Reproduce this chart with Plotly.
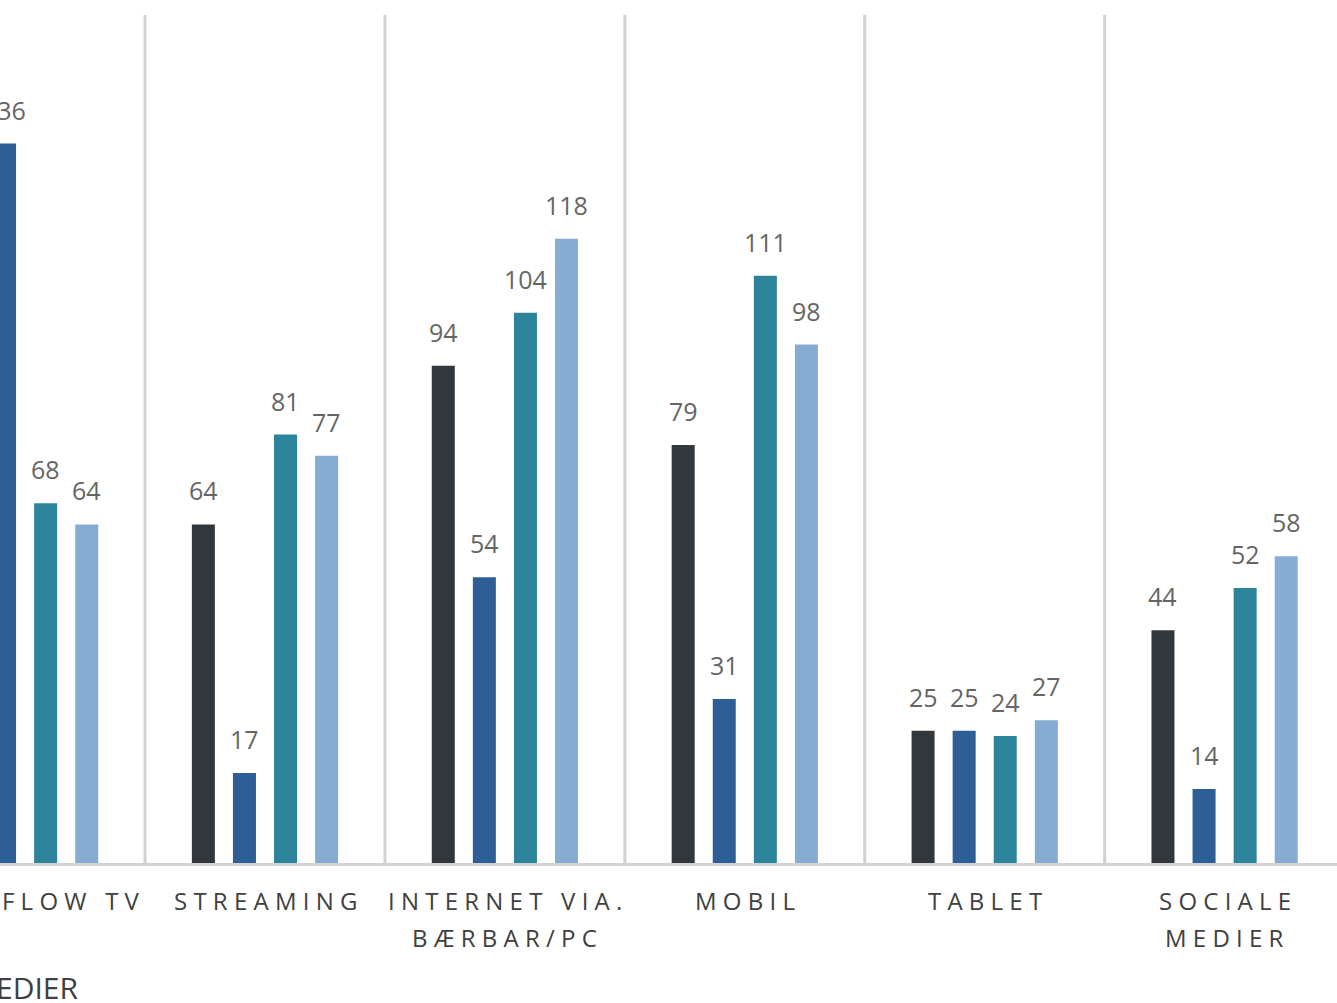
import plotly.graph_objects as go

# Categories and series values
categories = ["FLOW TV", "STREAMING", "INTERNET VIA.\nBÆRBAR/PC", "MOBIL", "TABLET", "SOCIALE\nMEDIER"]
series_names = ["Serie 1", "Serie 2", "Serie 3", "Serie 4"]
values_1 = [None, 64, 94, 79, 25, 44]
values_2 = [136, 17, 54, 31, 25, 14]
values_3 = [68, 81, 104, 111, 24, 52]
values_4 = [64, 77, 118, 98, 27, 58]
footer_text = "MEDIER"

series_values = [values_1, values_2, values_3, values_4]
colors = ["#32373c", "#2d5e95", "#2b8499", "#86acd4"]

BARGAP = 0.315
GROUPGAP = 0.44
X_RANGE = [-0.1046, 5.4685]
NBSP = "\u00a0"


def spaced(word_line):
    # wide letter-spacing: one nbsp between letters, three between words
    words = word_line.split(" ")
    return (NBSP * 3).join(NBSP.join(list(w)) for w in words)


fig = go.Figure()
for name, vals, col in zip(series_names, series_values, colors):
    fig.add_trace(go.Bar(
        x=list(range(len(categories))),
        y=vals,
        name=name,
        marker=dict(color=col, line=dict(width=0)),
        hoverinfo="y",
    ))

annotations = []
slot = (1 - BARGAP) / len(series_values)
# value labels above each bar
for k, vals in enumerate(series_values):
    for i, v in enumerate(vals):
        if v is None:
            continue
        annotations.append(dict(
            x=i + (k - (len(series_values) - 1) / 2) * slot,
            y=v, xref="x", yref="y",
            text=str(v), showarrow=False,
            xanchor="center", yanchor="bottom", yshift=15,
            font=dict(family="Open Sans", size=25, color="#656565"),
        ))

# category labels under the axis, one annotation per line;
# the first one is kept inside the left edge
for i, cat in enumerate(categories):
    for j, line in enumerate(cat.split("\n")):
        pos = dict(x=i, xref="x", xanchor="center")
        if i == 0:
            pos = dict(x=0, xref="paper", xanchor="left", xshift=0)
        annotations.append(dict(
            **pos, y=0, yref="paper",
            text=spaced(line), showarrow=False,
            yanchor="top", yshift=-19 - 37 * j,
            font=dict(family="Open Sans", size=24, color="#404040"),
        ))

# footer word at the lower left
annotations.append(dict(
    x=80 / 1337, y=0, xref="paper", yref="paper",
    text=footer_text, showarrow=False,
    xanchor="right", yanchor="bottom", yshift=-147,
    font=dict(family="Open Sans", size=30, color="#404040"),
))

# vertical separators between categories
shapes = []
for i in range(len(categories) - 1):
    shapes.append(dict(
        type="line", xref="x", yref="paper",
        x0=i + 0.5, x1=i + 0.5, y0=0, y1=1,
        line=dict(color="#d2d2d2", width=3),
        layer="below",
    ))

fig.update_layout(
    width=1337, height=1003,
    margin=dict(l=0, r=0, t=15, b=140),
    paper_bgcolor="white", plot_bgcolor="white",
    barmode="group", bargap=BARGAP, bargroupgap=GROUPGAP,
    showlegend=False,
    annotations=annotations,
    shapes=shapes,
    xaxis=dict(
        range=X_RANGE,
        showticklabels=False, ticks="",
        showgrid=False, zeroline=False,
        showline=True, linecolor="#d2d2d2", linewidth=3,
    ),
    yaxis=dict(
        range=[0, 160.3],
        visible=False, showgrid=False, zeroline=False,
    ),
)

fig.write_html("out.html")
